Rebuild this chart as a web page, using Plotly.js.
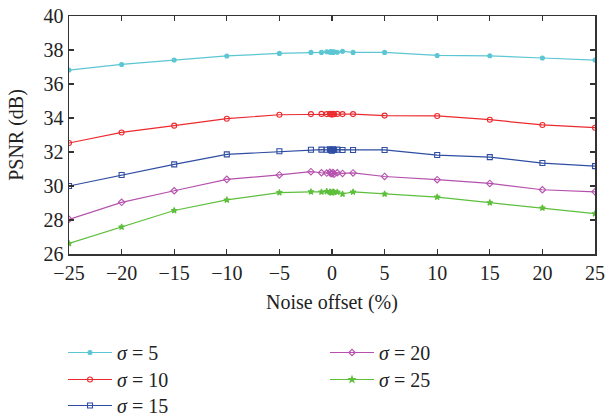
<!DOCTYPE html>
<html>
<head>
<meta charset="utf-8">
<script src="https://cdn.plot.ly/plotly-3.0.1.min.js"></script>
<style>html,body{margin:0;padding:0;background:#fff;}#chart{width:605px;height:417px;}</style>
</head>
<body>
<div id="chart"></div>
<script>
const offsets = [-25,-20,-15,-10,-5,-2,-1,-0.5,-0.2,-0.1,0,0.1,0.2,0.5,1,2,5,10,15,20,25];
const sigmaLabels = ['σ = 5','σ = 10','σ = 15','σ = 20','σ = 25'];
const psnr5  = [36.82,37.15,37.41,37.65,37.80,37.86,37.86,37.90,37.87,37.91,37.88,37.86,37.89,37.87,37.92,37.86,37.86,37.68,37.66,37.53,37.41];
const psnr10 = [32.53,33.15,33.55,33.96,34.19,34.23,34.24,34.23,34.25,34.22,34.20,34.24,34.22,34.24,34.23,34.23,34.14,34.12,33.90,33.59,33.43];
const psnr15 = [30.00,30.65,31.27,31.86,32.04,32.13,32.14,32.13,32.16,32.10,32.08,32.16,32.12,32.14,32.12,32.12,32.12,31.82,31.70,31.35,31.17];
const psnr20 = [28.04,29.04,29.72,30.39,30.65,30.84,30.78,30.76,30.80,30.74,30.72,30.79,30.70,30.78,30.74,30.77,30.56,30.37,30.15,29.78,29.66];
const psnr25 = [26.62,27.59,28.56,29.18,29.61,29.66,29.65,29.68,29.66,29.62,29.60,29.66,29.63,29.64,29.53,29.65,29.53,29.35,29.02,28.71,28.37];

const series = [psnr5, psnr10, psnr15, psnr20, psnr25];
const colors = ['#5cc6d3','#ec2a2e','#2f4ea3','#b551ad','#5dbf3c'];
const symbols = ['circle','circle-open','square-open','diamond-open','star'];
const sizes = [4,5,5,5,4.5];
const legendIds = ['legend','legend2','legend3','legend4','legend5'];

const traces = series.map((ys,i)=>({
  x: offsets, y: ys, type:'scatter', mode:'lines+markers',
  name: '<i>σ</i>' + sigmaLabels[i].slice(1),
  legend: legendIds[i],
  line:{color:colors[i], width:1.2},
  marker:{color:colors[i], symbol:symbols[i], size:sizes[i], line:{color:colors[i], width:1.1}}
}));

const fam = '"Liberation Serif", "DejaVu Serif", serif';
const tickFont = {family:fam, size:20, color:'#222'};
const axisCommon = {
  showline:true, linecolor:'#333', linewidth:1.5, mirror:'ticks',
  ticks:'inside', ticklen:5, tickcolor:'#333', tickwidth:1.2,
  showgrid:false, zeroline:false, tickfont:tickFont, automargin:true, tickangle:0
};
const legFont = {family:fam, size:20, color:'#222'};
// plot area: x 69..595, y 16..254 (pixels)
function leg(xpx, toppx){
  return {x:(xpx-69)/526, xanchor:'left', y:(254-toppx)/238, yanchor:'top', xref:'paper', yref:'paper',
          bgcolor:'rgba(0,0,0,0)', font:legFont, itemwidth:44, borderwidth:0};
}
const layout = {
  width:605, height:417,
  margin:{l:69, r:10, t:16, b:163, autoexpand:false},
  paper_bgcolor:'#fff', plot_bgcolor:'#fff',
  xaxis: Object.assign({}, axisCommon, {
    range:[-25,25], tickvals:[-25,-20,-15,-10,-5,0,5,10,15,20,25],
    ticktext:['−25','−20','−15','−10','−5','0','5','10','15','20','25'],
    title:{text:'Noise offset (%)', font:{family:fam, size:20, color:'#222'}, standoff:12}
  }),
  yaxis: Object.assign({}, axisCommon, {
    range:[26,40], tickvals:[26,28,30,32,34,36,38,40],
    title:{text:'PSNR (dB)', font:{family:fam, size:20, color:'#222'}, standoff:14}
  }),
  legend: leg(63, 333),
  legend2: leg(63, 360),
  legend3: leg(63, 386),
  legend4: leg(325, 333),
  legend5: leg(325, 360),
  showlegend:true
};
Plotly.newPlot('chart', traces, layout, {displayModeBar:false, staticPlot:true});
</script>
</body>
</html>
